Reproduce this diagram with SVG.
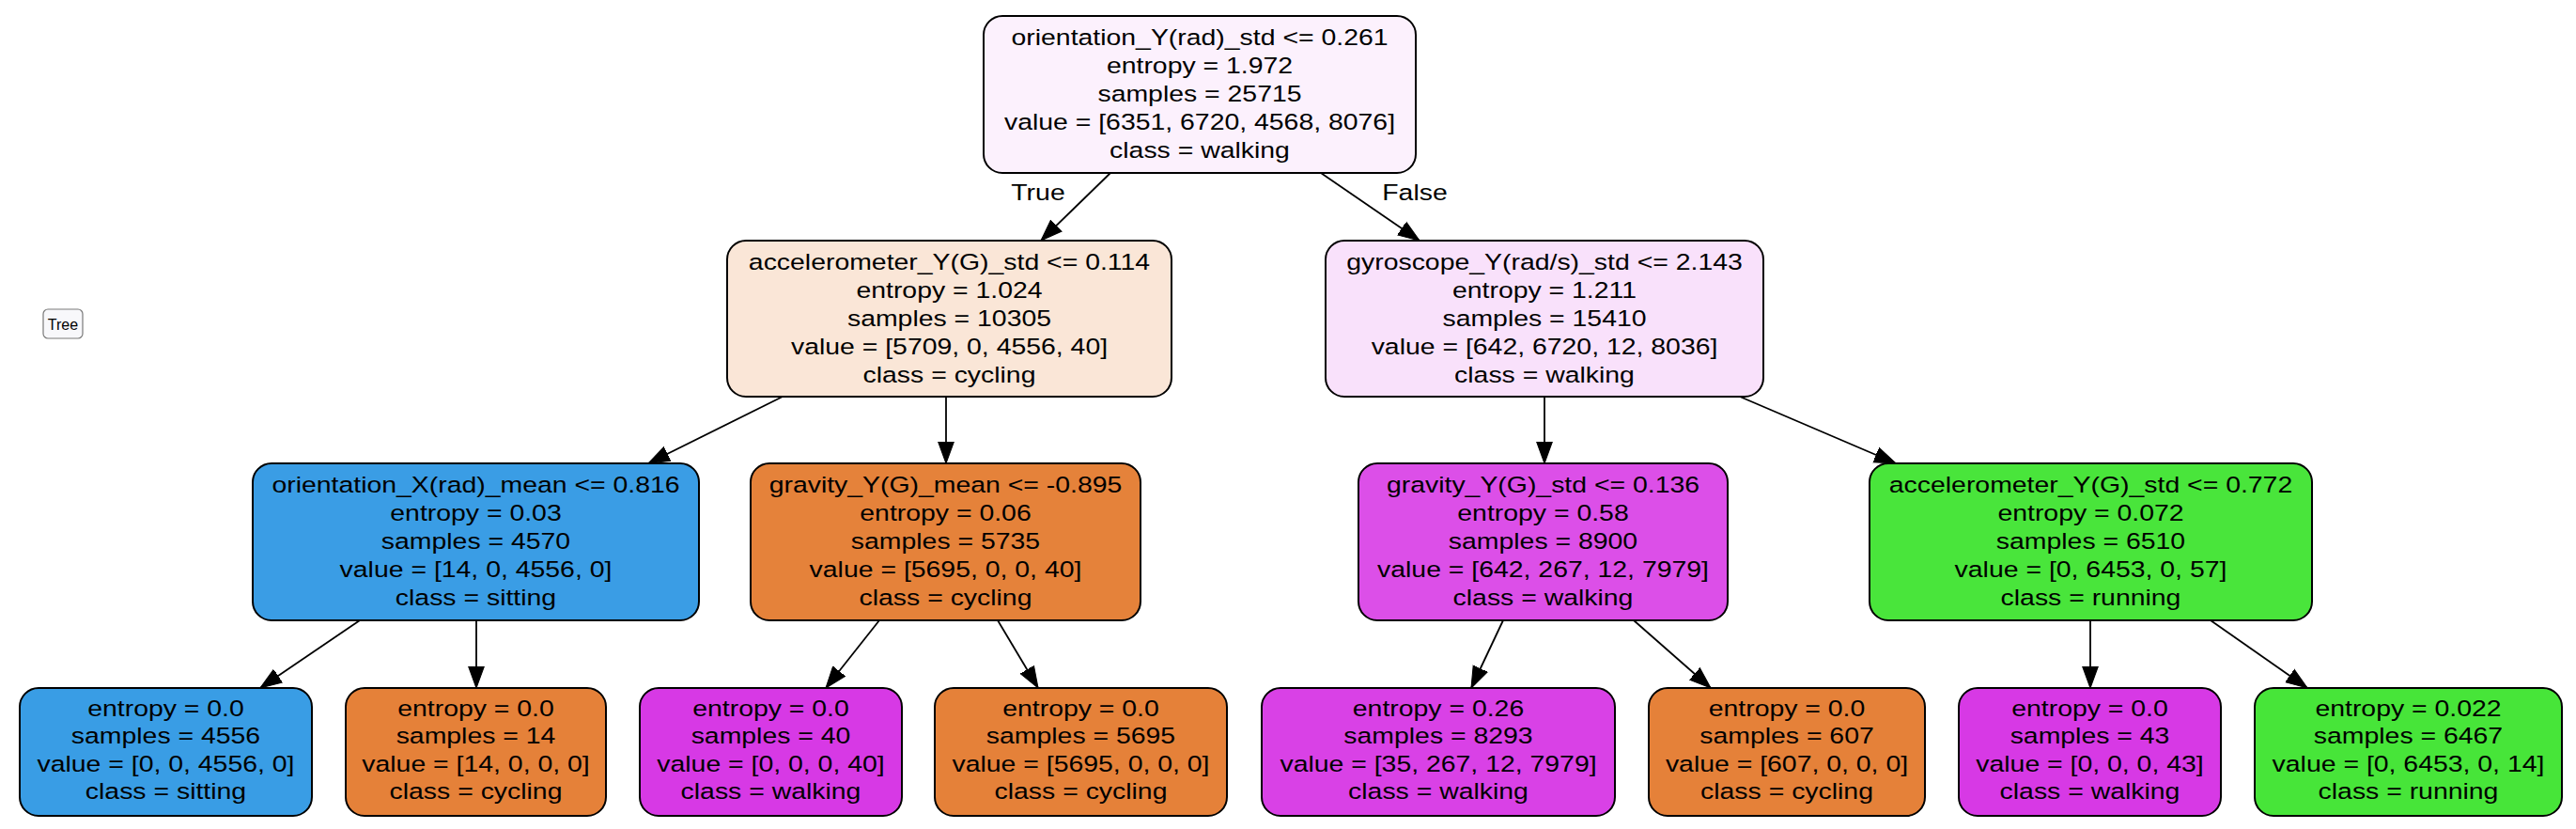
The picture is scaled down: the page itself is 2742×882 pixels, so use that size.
<svg xmlns="http://www.w3.org/2000/svg" width="2742" height="882" viewBox="0 0 2742 882">
<defs>
<marker id="arr" markerUnits="userSpaceOnUse" markerWidth="24" markerHeight="20" viewBox="0 -9 23 18" refX="22" refY="0" orient="auto">
<path d="M0,-8 L22,0 L0,8 z" fill="#000" stroke="#000" stroke-width="1"/>
</marker>
</defs>
<style>
.node rect{stroke:#000;stroke-width:2}
.t text,.lbl text{font-family:"Liberation Sans",Arial,Helvetica,sans-serif;font-size:24.5px;text-anchor:middle;fill:#000}
.edges line{stroke:#000;stroke-width:1.8;marker-end:url(#arr)}
.btn rect{fill:#f8f8fb;stroke:#7a7a7a;stroke-width:1.2}
.btn text{font-family:"Liberation Sans",Arial,sans-serif;font-size:16px;text-anchor:middle;fill:#000}
</style>
<rect width="2742" height="882" fill="#fff"/>

<g id="tree-button" class="btn">
<rect x="46" y="329" width="42" height="31" rx="5"/>
<text x="67" y="351">Tree</text>
</g>

<g id="connectors" class="edges">
<line x1="1182" y1="184" x2="1108" y2="256"/>
<line x1="1406" y1="184" x2="1511" y2="256"/>
<line x1="833" y1="422" x2="690" y2="493"/>
<line x1="1007" y1="422" x2="1007" y2="493"/>
<line x1="1644" y1="422" x2="1644" y2="493"/>
<line x1="1852" y1="422" x2="2018" y2="493"/>
<line x1="383" y1="660" x2="277" y2="732"/>
<line x1="507" y1="660" x2="507" y2="732"/>
<line x1="936" y1="660" x2="879" y2="732"/>
<line x1="1062" y1="660" x2="1105" y2="732"/>
<line x1="1600" y1="660" x2="1566" y2="732"/>
<line x1="1739" y1="660" x2="1821" y2="732"/>
<line x1="2225" y1="660" x2="2225" y2="732"/>
<line x1="2353" y1="660" x2="2456" y2="732"/>
</g>

<g id="edge-labels" class="lbl">
<g transform="translate(1105,0) scale(1.16,1)"><text x="0" y="213">True</text></g>
<g transform="translate(1506,0) scale(1.16,1)"><text x="0" y="213">False</text></g>
</g>

<g id="node0" class="node">
<rect x="1047" y="17" width="460" height="167" rx="20" fill="#fcf1fd"/>
<g class="t" transform="translate(1277,0) scale(1.16,1)">
<text x="0" y="48">orientation_Y(rad)_std &lt;= 0.261</text>
<text x="0" y="78">entropy = 1.972</text>
<text x="0" y="108">samples = 25715</text>
<text x="0" y="138">value = [6351, 6720, 4568, 8076]</text>
<text x="0" y="168">class = walking</text>
</g>
</g>

<g id="node1" class="node">
<rect x="774" y="256" width="473" height="166" rx="20" fill="#fae6d7"/>
<g class="t" transform="translate(1010.5,0) scale(1.16,1)">
<text x="0" y="287">accelerometer_Y(G)_std &lt;= 0.114</text>
<text x="0" y="317">entropy = 1.024</text>
<text x="0" y="347">samples = 10305</text>
<text x="0" y="377">value = [5709, 0, 4556, 40]</text>
<text x="0" y="407">class = cycling</text>
</g>
</g>

<g id="node2" class="node">
<rect x="1411" y="256" width="466" height="166" rx="20" fill="#f9e1fb"/>
<g class="t" transform="translate(1644,0) scale(1.16,1)">
<text x="0" y="287">gyroscope_Y(rad/s)_std &lt;= 2.143</text>
<text x="0" y="317">entropy = 1.211</text>
<text x="0" y="347">samples = 15410</text>
<text x="0" y="377">value = [642, 6720, 12, 8036]</text>
<text x="0" y="407">class = walking</text>
</g>
</g>

<g id="node3" class="node">
<rect x="269" y="493" width="475" height="167" rx="20" fill="#3a9de5"/>
<g class="t" transform="translate(506.5,0) scale(1.16,1)">
<text x="0" y="524">orientation_X(rad)_mean &lt;= 0.816</text>
<text x="0" y="554">entropy = 0.03</text>
<text x="0" y="584">samples = 4570</text>
<text x="0" y="614">value = [14, 0, 4556, 0]</text>
<text x="0" y="644">class = sitting</text>
</g>
</g>

<g id="node4" class="node">
<rect x="799" y="493" width="415" height="167" rx="20" fill="#e5823a"/>
<g class="t" transform="translate(1006.5,0) scale(1.16,1)">
<text x="0" y="524">gravity_Y(G)_mean &lt;= -0.895</text>
<text x="0" y="554">entropy = 0.06</text>
<text x="0" y="584">samples = 5735</text>
<text x="0" y="614">value = [5695, 0, 0, 40]</text>
<text x="0" y="644">class = cycling</text>
</g>
</g>

<g id="node5" class="node">
<rect x="1446" y="493" width="393" height="167" rx="20" fill="#dc4fe8"/>
<g class="t" transform="translate(1642.5,0) scale(1.16,1)">
<text x="0" y="524">gravity_Y(G)_std &lt;= 0.136</text>
<text x="0" y="554">entropy = 0.58</text>
<text x="0" y="584">samples = 8900</text>
<text x="0" y="614">value = [642, 267, 12, 7979]</text>
<text x="0" y="644">class = walking</text>
</g>
</g>

<g id="node6" class="node">
<rect x="1990" y="493" width="471" height="167" rx="20" fill="#49e53b"/>
<g class="t" transform="translate(2225.5,0) scale(1.16,1)">
<text x="0" y="524">accelerometer_Y(G)_std &lt;= 0.772</text>
<text x="0" y="554">entropy = 0.072</text>
<text x="0" y="584">samples = 6510</text>
<text x="0" y="614">value = [0, 6453, 0, 57]</text>
<text x="0" y="644">class = running</text>
</g>
</g>

<g id="node7" class="node">
<rect x="21" y="732" width="311" height="136" rx="20" fill="#399de5"/>
<g class="t" transform="translate(176.5,0) scale(1.16,1)">
<text x="0" y="762">entropy = 0.0</text>
<text x="0" y="791">samples = 4556</text>
<text x="0" y="821">value = [0, 0, 4556, 0]</text>
<text x="0" y="850">class = sitting</text>
</g>
</g>

<g id="node8" class="node">
<rect x="368" y="732" width="277" height="136" rx="20" fill="#e58139"/>
<g class="t" transform="translate(506.5,0) scale(1.16,1)">
<text x="0" y="762">entropy = 0.0</text>
<text x="0" y="791">samples = 14</text>
<text x="0" y="821">value = [14, 0, 0, 0]</text>
<text x="0" y="850">class = cycling</text>
</g>
</g>

<g id="node9" class="node">
<rect x="681" y="732" width="279" height="136" rx="20" fill="#d739e5"/>
<g class="t" transform="translate(820.5,0) scale(1.16,1)">
<text x="0" y="762">entropy = 0.0</text>
<text x="0" y="791">samples = 40</text>
<text x="0" y="821">value = [0, 0, 0, 40]</text>
<text x="0" y="850">class = walking</text>
</g>
</g>

<g id="node10" class="node">
<rect x="995" y="732" width="311" height="136" rx="20" fill="#e58139"/>
<g class="t" transform="translate(1150.5,0) scale(1.16,1)">
<text x="0" y="762">entropy = 0.0</text>
<text x="0" y="791">samples = 5695</text>
<text x="0" y="821">value = [5695, 0, 0, 0]</text>
<text x="0" y="850">class = cycling</text>
</g>
</g>

<g id="node11" class="node">
<rect x="1343" y="732" width="376" height="136" rx="20" fill="#d941e6"/>
<g class="t" transform="translate(1531,0) scale(1.16,1)">
<text x="0" y="762">entropy = 0.26</text>
<text x="0" y="791">samples = 8293</text>
<text x="0" y="821">value = [35, 267, 12, 7979]</text>
<text x="0" y="850">class = walking</text>
</g>
</g>

<g id="node12" class="node">
<rect x="1755" y="732" width="294" height="136" rx="20" fill="#e58139"/>
<g class="t" transform="translate(1902,0) scale(1.16,1)">
<text x="0" y="762">entropy = 0.0</text>
<text x="0" y="791">samples = 607</text>
<text x="0" y="821">value = [607, 0, 0, 0]</text>
<text x="0" y="850">class = cycling</text>
</g>
</g>

<g id="node13" class="node">
<rect x="2085" y="732" width="279" height="136" rx="20" fill="#d739e5"/>
<g class="t" transform="translate(2224.5,0) scale(1.16,1)">
<text x="0" y="762">entropy = 0.0</text>
<text x="0" y="791">samples = 43</text>
<text x="0" y="821">value = [0, 0, 0, 43]</text>
<text x="0" y="850">class = walking</text>
</g>
</g>

<g id="node14" class="node">
<rect x="2400" y="732" width="327" height="136" rx="20" fill="#47e539"/>
<g class="t" transform="translate(2563.5,0) scale(1.16,1)">
<text x="0" y="762">entropy = 0.022</text>
<text x="0" y="791">samples = 6467</text>
<text x="0" y="821">value = [0, 6453, 0, 14]</text>
<text x="0" y="850">class = running</text>
</g>
</g>
</svg>
